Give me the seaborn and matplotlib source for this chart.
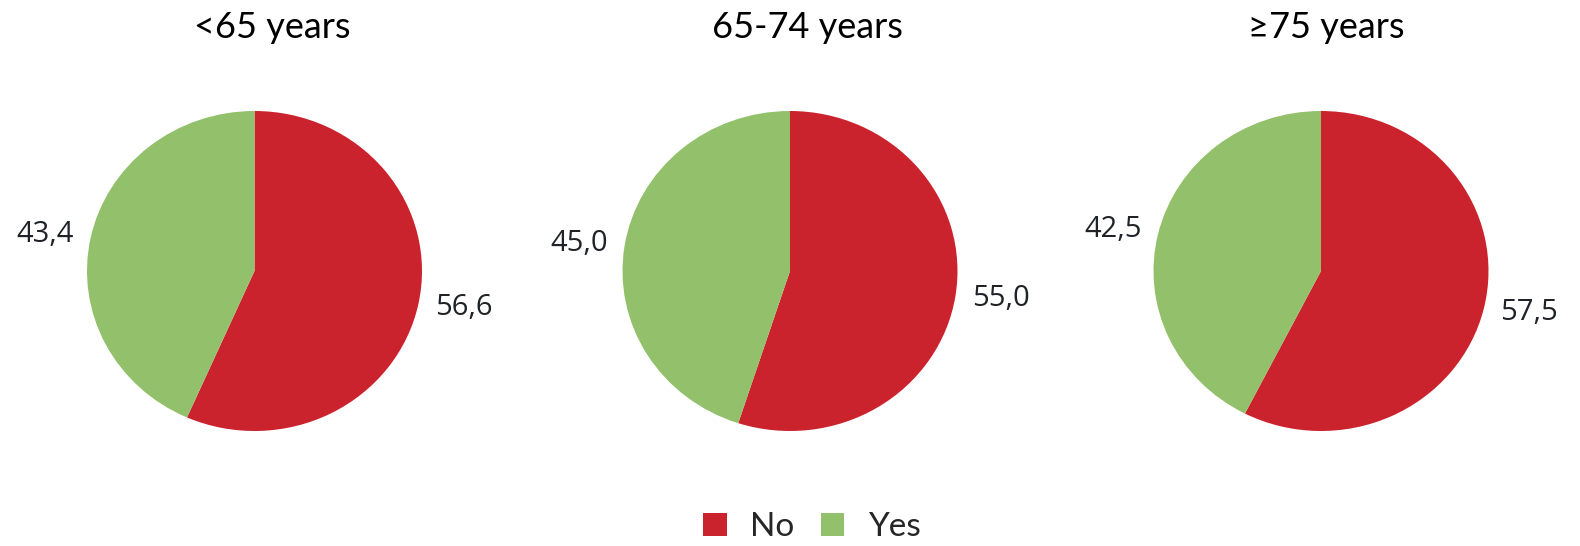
import matplotlib
matplotlib.use("Agg")
import matplotlib.pyplot as plt
import seaborn as sns
from matplotlib.patches import Patch

# datos
grupos = ["<65 years", "65-74 years", "≥75 years"]
categorias = ["No", "Yes"]
valores_no = [56.6, 55.0, 57.5]
valores_si = [43.4, 45.0, 42.5]

COLORES = {"No": "#cb232e", "Yes": "#93c06b"}

sns.set_theme(style="white")
plt.rcParams['font.family'] = ['Lato', 'DejaVu Sans']

W, H = 1580, 546
fig = plt.figure(figsize=(W / 100, H / 100), dpi=100)

# posición de cada tarta en píxeles (centro x, centro y, semiejes)
centros_x = [254.5, 790, 1321]
centro_y = 271
rx, ry = 167.5, 160
titulos_x = [272, 807, 1326]

for i, grupo in enumerate(grupos):
    ax = fig.add_axes([(centros_x[i] - rx) / W, (H - centro_y - ry) / H, 2 * rx / W, 2 * ry / H])
    vals = [valores_no[i], valores_si[i]]
    etiquetas = [f"{v:.1f}".replace(".", ",") for v in vals]
    wedges, textos = ax.pie(vals, labels=etiquetas, colors=[COLORES[c] for c in categorias],
                            startangle=90, counterclock=False, labeldistance=1.1,
                            wedgeprops=dict(linewidth=0),
                            textprops=dict(fontsize=21, color="#1f2328"))
    for t in textos:
        t.set_fontfamily(["Open Sans", "DejaVu Sans"])
    ax.set_aspect('auto')
    ax.set_xlim(-1, 1)
    ax.set_ylim(-1, 1)
    ax.axis('off')
    fig.text(titulos_x[i] / W, 1 - 27 / H, grupo, ha='center', va='center', fontsize=26, color="black")

handles = [Patch(facecolor=COLORES[c], edgecolor='none', label=c) for c in categorias]
fig.legend(handles=handles, loc='center', bbox_to_anchor=(812 / W, 1 - 527 / H), ncol=2, frameon=False,
           fontsize=24, handlelength=0.7, handleheight=0.7, handletextpad=0.7, columnspacing=0.8,
           borderpad=0, borderaxespad=0)

fig.savefig("out.png", dpi=100, facecolor="white")
